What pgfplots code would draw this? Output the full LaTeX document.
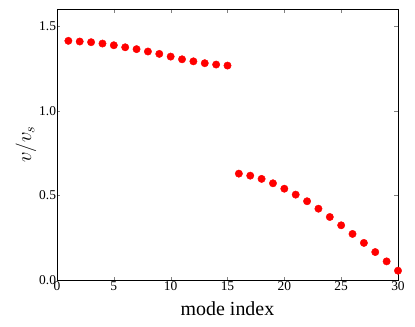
\documentclass[border=0pt]{standalone}
\usepackage{fontspec}
\setmainfont{Liberation Serif}
\usepackage{pgfplots}
\pgfplotsset{compat=1.18}
\begin{document}
\begin{tikzpicture}
\begin{axis}[
    scale only axis,
    width=341bp,
    height=271bp,
    xmin=0, xmax=30,
    ymin=0, ymax=1.6,
    xtick={0,5,...,30},
    ytick={0,0.5,1.0,1.5},
    tick align=inside,
    major tick length=3.5bp,
    minor tick num=0,
    xticklabel={\pgfmathprintnumber[assume math mode=true]{\tick}},
    yticklabel={\pgfmathprintnumber[assume math mode=true, fixed, fixed zerofill, precision=1]{\tick}},
    ticklabel style={font=\fontsize{13.5}{15}\selectfont},
    xticklabel style={yshift=1.5bp},
    yticklabel style={xshift=2.5bp},
    xlabel={mode index},
    ylabel={$v/v_s$},
    xlabel style={font=\fontsize{20}{22}\selectfont, yshift=-4bp},
    ylabel style={font=\fontsize{21}{22}\selectfont, yshift=-4bp},
    clip=false,
    axis line style={line width=0.8bp},
]
\addplot[only marks, mark=*, mark size=3.7bp, color=red, mark options={draw=red, fill=red}] coordinates {
    (1,1.412) (2,1.408) (3,1.404) (4,1.396) (5,1.386)
    (6,1.374) (7,1.363) (8,1.349) (9,1.335) (10,1.319)
    (11,1.303) (12,1.291) (13,1.280) (14,1.272) (15,1.266)
    (16,0.628) (17,0.616) (18,0.597) (19,0.571) (20,0.539)
    (21,0.504) (22,0.465) (23,0.421) (24,0.372) (25,0.323)
    (26,0.272) (27,0.219) (28,0.165) (29,0.110) (30,0.055)
};
\coordinate (bl) at (rel axis cs:0,0);
\end{axis}
\pgfresetboundingbox
\path (bl) ++(-57bp,-47bp) rectangle ++(415bp,327bp);
\end{tikzpicture}
\end{document}
